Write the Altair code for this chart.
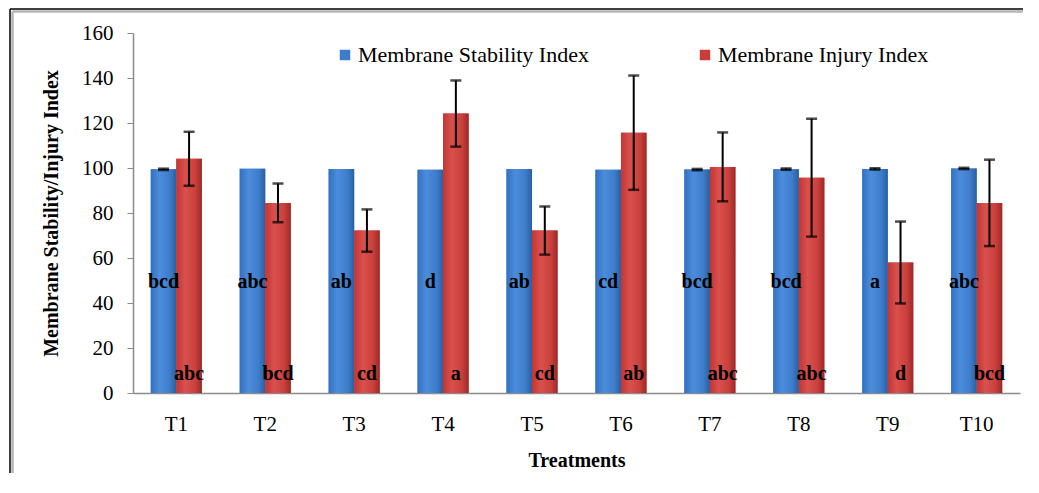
import altair as alt
import pandas as pd

treatments = ["T1", "T2", "T3", "T4", "T5", "T6", "T7", "T8", "T9", "T10"]
msi = [99.4, 99.7, 99.6, 99.2, 99.6, 99.2, 99.3, 99.5, 99.6, 99.8]
msi_err = [0.3, 0, 0, 0, 0, 0, 0.3, 0.3, 0.3, 0.3]
mii = [104.1, 84.5, 72.2, 124.2, 72.2, 115.7, 100.5, 95.7, 58.0, 84.5]
mii_err = [12.0, 8.6, 9.4, 14.7, 10.7, 25.4, 15.3, 26.2, 18.2, 19.2]
msi_letters = ["bcd", "abc", "ab", "d", "ab", "cd", "bcd", "bcd", "a", "abc"]
mii_letters = ["abc", "bcd", "cd", "a", "cd", "ab", "abc", "abc", "d", "bcd"]
letter_y = {"Membrane Stability Index": 49.5, "Membrane Injury Index": 8.5}

S1 = "Membrane Stability Index"
S2 = "Membrane Injury Index"
series = [S1, S2]

rows = []
for i, t in enumerate(treatments):
    rows.append(dict(T=t, S=S1, v=msi[i], e=msi_err[i], lab=msi_letters[i]))
    rows.append(dict(T=t, S=S2, v=mii[i], e=mii_err[i], lab=mii_letters[i]))
df = pd.DataFrame(rows)
df["lo"] = df["v"] - df["e"]
df["hi"] = df["v"] + df["e"]
df["ly"] = df["S"].map(letter_y)

FONT = "Liberation Serif"

x_enc = alt.X("T:N", sort=treatments,
              scale=alt.Scale(paddingInner=0.426, paddingOuter=0.2),
              axis=alt.Axis(title="Treatments", labelAngle=0, ticks=False,
                            labelPadding=20, titlePadding=16))
xo = alt.XOffset("S:N", sort=series)

base = alt.Chart(df)

bars = base.mark_bar().encode(
    x=x_enc,
    xOffset=xo,
    y=alt.Y("v:Q", scale=alt.Scale(domain=[0, 160]),
            axis=alt.Axis(title="Membrane Stability/Injury Index",
                          values=list(range(0, 161, 20)), tickSize=6,
                          labelPadding=14, titlePadding=20, grid=False)),
    color=alt.Color("S:N", sort=series,
                    scale=alt.Scale(domain=series, range=["#3c7cca", "#c83c3a"]),
                    legend=alt.Legend(title=None, orient="none", direction="horizontal",
                                      legendX=201, legendY=11, symbolType="square",
                                      symbolSize=110, labelFontSize=22, labelFont=FONT,
                                      labelOffset=2, columnPadding=105, labelLimit=500,
                                      symbolStrokeWidth=0)),
)

blue_grad = alt.Gradient(gradient="linear", x1=0, x2=1, y1=0, y2=0, stops=[
    alt.GradientStop(color="#3470c0", offset=0),
    alt.GradientStop(color="#4b8ddc", offset=0.35),
    alt.GradientStop(color="#3d7cca", offset=0.75),
    alt.GradientStop(color="#2a5f9f", offset=1)])
red_grad = alt.Gradient(gradient="linear", x1=0, x2=1, y1=0, y2=0, stops=[
    alt.GradientStop(color="#c23634", offset=0),
    alt.GradientStop(color="#d9504d", offset=0.35),
    alt.GradientStop(color="#c83f3c", offset=0.75),
    alt.GradientStop(color="#9c2927", offset=1)])

bars_b = base.mark_bar(fill=blue_grad).encode(x=x_enc, xOffset=xo, y="v:Q").transform_filter(
    alt.datum.S == S1)
bars_r = base.mark_bar(fill=red_grad).encode(x=x_enc, xOffset=xo, y="v:Q").transform_filter(
    alt.datum.S == S2)

err = base.mark_rule(color="black", strokeWidth=2).encode(
    x=x_enc, xOffset=xo, y="lo:Q", y2="hi:Q").transform_filter(alt.datum.e > 0)
cap_lo = base.mark_tick(color="black", size=11, thickness=2.5).encode(
    x=x_enc, xOffset=xo, y="lo:Q").transform_filter(alt.datum.e > 0)
cap_hi = base.mark_tick(color="black", size=11, thickness=2.5).encode(
    x=x_enc, xOffset=xo, y="hi:Q").transform_filter(alt.datum.e > 0)

letters = base.mark_text(font=FONT, fontWeight="bold", fontSize=20, color="black",
                         baseline="middle").encode(
    x=x_enc, xOffset=xo, y="ly:Q", text="lab:N")

# outer frame: left and top edges only, well inside the drawing
frame_df = pd.DataFrame({"k": [0]})
fb = alt.Chart(frame_df)
frame1 = fb.mark_rule(color="black", strokeWidth=1.5).encode(
    x=alt.value(-123), y=alt.value(-24), y2=alt.value(440))
frame2 = fb.mark_rule(color="black", strokeWidth=1.5).encode(
    x=alt.value(-123), x2=alt.value(890), y=alt.value(-24))
frame3 = fb.mark_rule(color="#b4b4b4", strokeWidth=2.5).encode(
    x=alt.value(-120.5), y=alt.value(-21.5), y2=alt.value(440))
frame4 = fb.mark_rule(color="#b4b4b4", strokeWidth=2.5).encode(
    x=alt.value(-120.5), x2=alt.value(890), y=alt.value(-21.5))

chart = alt.layer(frame3, frame4, frame1, frame2, bars, bars_b, bars_r, err, cap_lo, cap_hi,
                  letters).properties(
    width=887, height=360,
    autosize=alt.AutoSizeParams(type="none"),
    padding={"left": 125, "top": 25, "right": 8, "bottom": 85},
).configure_view(stroke=None).configure_axis(
    labelFont=FONT, titleFont=FONT, labelFontSize=21, titleFontSize=20,
    titleFontWeight="bold", labelColor="black", titleColor="black",
    domainColor="#8c8c8c", tickColor="#8c8c8c", domainWidth=1.5,
)

chart.save("out.html", embed_options={"renderer": "svg", "actions": False})
